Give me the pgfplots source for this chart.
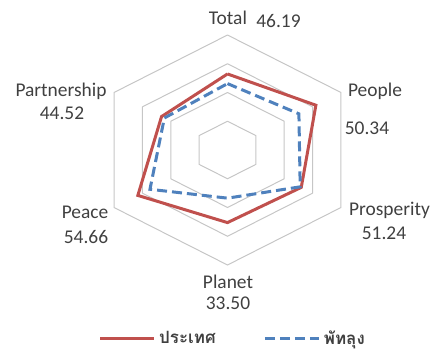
\documentclass[border=0pt]{standalone}
\usepackage{pgfplots}
\pgfplotsset{compat=1.18}
\usepackage{pgfplotstable}
\usepackage{fontspec}
\setmainfont{Carlito}
\newfontfamily\thaifont[Script=Thai]{Loma}
\definecolor{cred}{HTML}{C0504D}
\definecolor{cblue}{HTML}{4F81BD}
\definecolor{cgrid}{HTML}{C6C6C6}
\definecolor{ctext}{HTML}{404040}

% angle (deg), value for country (ประเทศ), value for Phatthalung (พัทลุง)
\pgfplotstableread{
angle country phatthalung
90    52.9    46.19
30    62.3    50.34
-30   52.0    51.24
-90   50.5    33.50
-150  63.2    54.66
150   46.5    44.52
90    52.9    46.19
}\radar

\begin{document}
\begin{tikzpicture}[font=\fontsize{19.5}{22}\selectfont]
\begin{axis}[
  x=1.638bp, y=1.4375bp,
  xmin=-80, xmax=80, ymin=-80, ymax=80,
  hide axis, clip=false,
  legend columns=2,
  legend style={at={(0.523,-0.318)}, anchor=center, draw=none, fill=none,
    font=\thaifont\bfseries\fontsize{17}{19}\selectfont, text=ctext,
    nodes={inner sep=3.5bp},
    /tikz/every even column/.append style={column sep=44bp}},
  legend image code/.code={\draw[#1] (0bp,0bp) -- (54bp,0bp);},
]
\pgfplotsinvokeforeach{20,40,60,80}{
  \addplot[cgrid, line width=1bp, forget plot]
    table[x expr={#1*cos(\thisrow{angle})}, y expr={#1*sin(\thisrow{angle})}] {\radar};
}
\addplot[cred, line width=3bp]
  table[x expr={\thisrow{country}*cos(\thisrow{angle})}, y expr={\thisrow{country}*sin(\thisrow{angle})}] {\radar};
\addlegendentry{ประเทศ}
\addplot[cblue, line width=3bp, dash pattern=on 10bp off 5bp]
  table[x expr={\thisrow{phatthalung}*cos(\thisrow{angle})}, y expr={\thisrow{phatthalung}*sin(\thisrow{angle})}] {\radar};
\addlegendentry{พัทลุง}
\coordinate (c) at (axis cs:0,0);
\end{axis}
\pgfresetboundingbox
\path[use as bounding box] ([shift={(-227.5bp,-202bp)}]c) rectangle ([shift={(207.5bp,150bp)}]c);
\begin{scope}[every node/.style={text=ctext, inner sep=0pt, anchor=center}]
\node at ([shift={(0.5bp,132bp)}]c) {Total};
\node at ([shift={(51bp,129bp)}]c) {46.19};
\node at ([shift={(147.5bp,59bp)}]c) {People};
\node at ([shift={(139.5bp,22bp)}]c) {50.34};
\node at ([shift={(162bp,-60bp)}]c) {Prosperity};
\node at ([shift={(156.5bp,-83bp)}]c) {51.24};
\node at ([shift={(0.5bp,-132bp)}]c) {Planet};
\node at ([shift={(0.5bp,-153bp)}]c) {33.50};
\node at ([shift={(-142.5bp,-62bp)}]c) {Peace};
\node at ([shift={(-141.5bp,-87bp)}]c) {54.66};
\node at ([shift={(-166.5bp,59bp)}]c) {Partnership};
\node at ([shift={(-165.5bp,37bp)}]c) {44.52};
\end{scope}
\end{tikzpicture}
\end{document}
